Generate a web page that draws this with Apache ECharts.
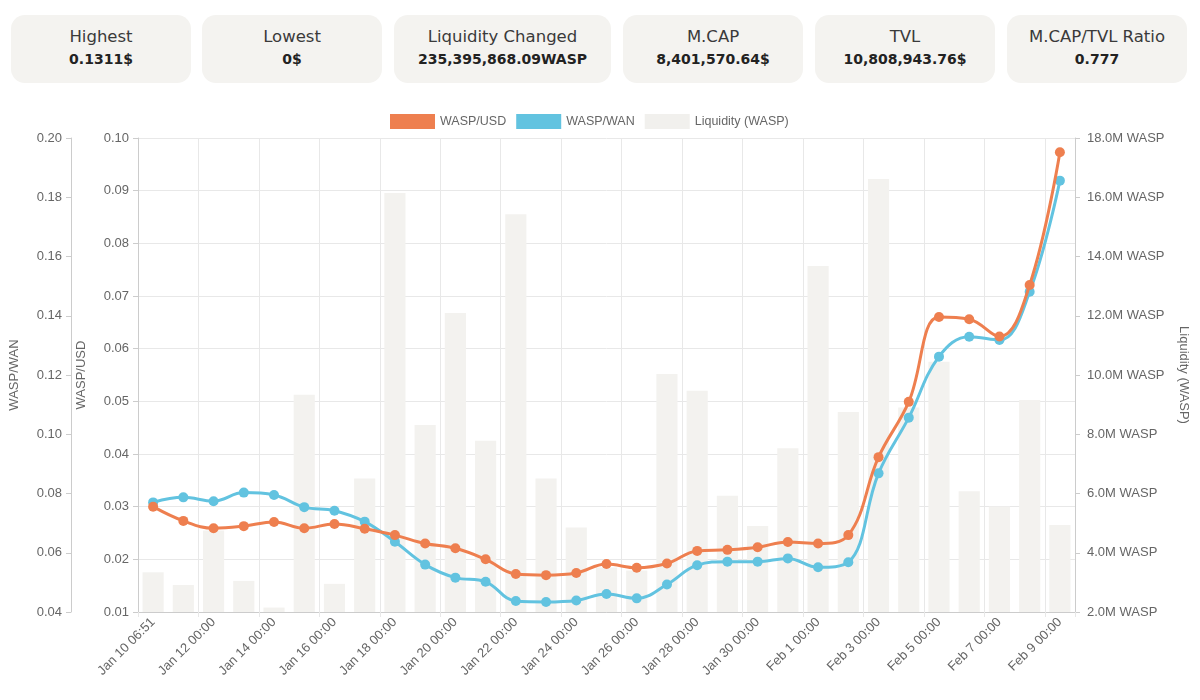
<!DOCTYPE html>
<html>
<head>
<meta charset="utf-8">
<script src="https://cdn.jsdelivr.net/npm/echarts@6/dist/echarts.min.js"></script>
<style>
  html, body { margin: 0; padding: 0; background: #ffffff; }
  #wrap { position: relative; width: 1200px; height: 700px; overflow: hidden; }
  #chart { position: absolute; left: 0; top: 0; width: 1200px; height: 700px; }
  .card { position: absolute; top: 15px; height: 68px; background: #f4f3f0; border-radius: 14px;
          font-family: "DejaVu Sans", "Noto Sans", sans-serif; text-align: center; z-index: 2; }
  .card .t { position: absolute; left: 0; right: 0; top: 12px; font-size: 16.5px; color: #3a3a3a; font-weight: 400; }
  .card .v { position: absolute; left: 0; right: 0; top: 36px; font-size: 14px; color: #222; font-weight: 700; }
</style>
</head>
<body>
<div id="wrap">
  <div id="chart"></div>
  <div id="cards"></div>
</div>
<script>
// ---- data ----
const statTitles = ['Highest', 'Lowest', 'Liquidity Changed', 'M.CAP', 'TVL', 'M.CAP/TVL Ratio'];
const statValues = ['0.1311$', '0$', '235,395,868.09WASP', '8,401,570.64$', '10,808,943.76$', '0.777'];

const categories = [
  'Jan 10 06:51', 'Jan 11 00:00', 'Jan 12 00:00', 'Jan 13 00:00', 'Jan 14 00:00', 'Jan 15 00:00',
  'Jan 16 00:00', 'Jan 17 00:00', 'Jan 18 00:00', 'Jan 19 00:00', 'Jan 20 00:00', 'Jan 21 00:00',
  'Jan 22 00:00', 'Jan 23 00:00', 'Jan 24 00:00', 'Jan 25 00:00', 'Jan 26 00:00', 'Jan 27 00:00',
  'Jan 28 00:00', 'Jan 29 00:00', 'Jan 30 00:00', 'Jan 31 00:00', 'Feb 1 00:00', 'Feb 2 00:00',
  'Feb 3 00:00', 'Feb 4 00:00', 'Feb 5 00:00', 'Feb 6 00:00', 'Feb 7 00:00', 'Feb 8 00:00',
  'Feb 9 00:00'
];

const waspUsd = [
  0.0300, 0.0273, 0.0259, 0.0263, 0.0271, 0.0259, 0.0267, 0.0258, 0.0246, 0.0230, 0.0221,
  0.0200, 0.0172, 0.0170, 0.0174, 0.0191, 0.0184, 0.0192, 0.0216, 0.0218, 0.0223, 0.0233,
  0.0230, 0.0246, 0.0394, 0.0499, 0.0660, 0.0656, 0.0623, 0.0721, 0.0973
];

const waspWan = [
  0.0770, 0.0787, 0.0774, 0.0803, 0.0795, 0.0754, 0.0742, 0.0705, 0.0637, 0.0560, 0.0516,
  0.0502, 0.0437, 0.0434, 0.0439, 0.0461, 0.0446, 0.0493, 0.0558, 0.0570, 0.0570, 0.0581,
  0.0551, 0.0568, 0.0868, 0.1056, 0.1262, 0.1329, 0.1318, 0.1481, 0.1856
];

const liquidity = [
  3340000, 2910000, 4750000, 3050000, 2150000, 9330000, 2950000, 6510000, 16140000, 8310000,
  12090000, 7780000, 15430000, 6510000, 4850000, 3500000, 3400000, 10030000, 9470000, 5920000,
  4900000, 7530000, 13680000, 8750000, 16620000, 8900000, 10450000, 6080000, 5560000, 9160000,
  4940000
];

const usdTicks = { min: 0.01, max: 0.10, interval: 0.01 };
const wanTicks = { min: 0.04, max: 0.20, interval: 0.02 };
const liqTicks = { min: 2000000, max: 18000000, interval: 2000000 };

// ---- cards ----
const cardLefts = [11, 202, 394, 623, 815, 1007];
const cardWidths = [180, 180, 217, 180, 180, 180];
const cardsEl = document.getElementById('cards');
statTitles.forEach((t, i) => {
  const d = document.createElement('div');
  d.className = 'card';
  d.style.left = cardLefts[i] + 'px';
  d.style.width = cardWidths[i] + 'px';
  d.innerHTML = '<div class="t">' + t + '</div><div class="v">' + statValues[i] + '</div>';
  cardsEl.appendChild(d);
});

// ---- chart ----
const ORANGE = '#ee7f4f';
const BLUE = '#62c3e0';
const BAR = '#f3f2ef';
const AXIS = '#cccccc';
const GRID = '#e8e8e8';
const LABEL = '#666666';
const FONT = 'Liberation Sans, Arial, sans-serif';

const chart = echarts.init(document.getElementById('chart'), null, { renderer: 'canvas' });

function yAxisBase(extra) {
  return Object.assign({
    type: 'value',
    nameLocation: 'middle',
    nameTextStyle: { color: LABEL, fontSize: 13, fontFamily: FONT },
    axisLine: { show: true, lineStyle: { color: AXIS } },
    axisTick: { show: true, length: 5, lineStyle: { color: AXIS } },
    splitLine: { show: false }
  }, extra);
}

chart.setOption({
  animation: false,
  textStyle: { fontFamily: FONT },
  legend: {
    top: 109,
    left: 385,
    itemWidth: 45,
    itemHeight: 15,
    itemGap: 10,
    icon: 'rect',
    textStyle: { color: LABEL, fontSize: 12.5, fontFamily: FONT },
    data: [
      { name: 'WASP/USD', itemStyle: { color: ORANGE } },
      { name: 'WASP/WAN', itemStyle: { color: BLUE } },
      { name: 'Liquidity (WASP)', itemStyle: { color: '#f1f0ed' } }
    ]
  },
  grid: { left: 138, right: 125, top: 138, bottom: 88, containLabel: false },
  xAxis: {
    type: 'category',
    data: categories,
    boundaryGap: true,
    axisLine: { show: true, lineStyle: { color: AXIS } },
    axisTick: { show: true, interval: 1, length: 5, lineStyle: { color: GRID } },
    axisLabel: { interval: 1, rotate: 45, color: LABEL, fontSize: 13, fontFamily: FONT, margin: 8 },
    splitLine: { show: true, interval: 1, lineStyle: { color: GRID } }
  },
  yAxis: [
    yAxisBase({
      name: 'WASP/USD', position: 'left', offset: 0, nameGap: 50,
      min: usdTicks.min, max: usdTicks.max, interval: usdTicks.interval,
      axisLabel: { color: LABEL, fontSize: 13, fontFamily: FONT, margin: 9, formatter: v => v.toFixed(2) },
      splitLine: { show: true, lineStyle: { color: GRID } }
    }),
    yAxisBase({
      name: 'WASP/WAN', position: 'left', offset: 67, nameGap: 50,
      min: wanTicks.min, max: wanTicks.max, interval: wanTicks.interval,
      axisLabel: { color: LABEL, fontSize: 13, fontFamily: FONT, margin: 9, formatter: v => v.toFixed(2) }
    }),
    yAxisBase({
      name: 'Liquidity (WASP)', position: 'right', offset: 0, nameGap: 102, nameRotate: -90,
      min: liqTicks.min, max: liqTicks.max, interval: liqTicks.interval,
      axisLabel: { color: LABEL, fontSize: 13, fontFamily: FONT, margin: 12,
                   formatter: v => (v / 1000000).toFixed(1) + 'M WASP' }
    })
  ],
  series: [
    {
      name: 'WASP/USD', type: 'line', yAxisIndex: 0, data: waspUsd, smooth: 0.4,
      symbol: 'circle', symbolSize: 10, z: 4,
      lineStyle: { color: ORANGE, width: 3 }, itemStyle: { color: ORANGE }
    },
    {
      name: 'WASP/WAN', type: 'line', yAxisIndex: 1, data: waspWan, smooth: 0.4,
      symbol: 'circle', symbolSize: 10, z: 3,
      lineStyle: { color: BLUE, width: 3 }, itemStyle: { color: BLUE }
    },
    {
      name: 'Liquidity (WASP)', type: 'bar', yAxisIndex: 2, data: liquidity,
      barWidth: '70%', z: 1, itemStyle: { color: BAR }
    }
  ]
});
</script>
</body>
</html>
